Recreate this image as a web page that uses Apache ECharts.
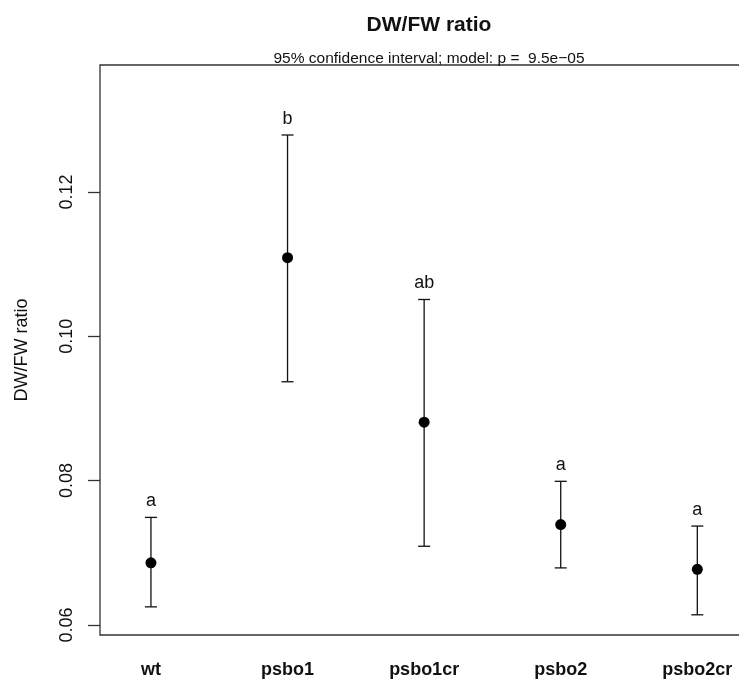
<!DOCTYPE html>
<html>
<head>
<meta charset="utf-8">
<script src="https://cdn.jsdelivr.net/npm/echarts@6/dist/echarts.min.js"></script>
<style>
  html, body { margin: 0; padding: 0; background: #fff; }
  #chart { width: 739px; height: 680px; }
</style>
</head>
<body>
<div id="chart"></div>
<script>
// groups and 95% CI
const groups = ['wt', 'psbo1', 'psbo1cr', 'psbo2', 'psbo2cr'];
const means = [0.0686, 0.1109, 0.0881, 0.0739, 0.0677];
const lower = [0.0625, 0.0937, 0.0709, 0.0679, 0.0614];
const upper = [0.0749, 0.1279, 0.1051, 0.0799, 0.0737];
const letters = ['a', 'b', 'ab', 'a', 'a'];
const yTicks = [0.06, 0.08, 0.10, 0.12];

const font = '"Liberation Sans", Arial, Helvetica, sans-serif';
const ink = '#111';

const chart = echarts.init(document.getElementById('chart'));

const ciData = groups.map((g, i) => [i + 1, lower[i], upper[i]]);
const meanData = groups.map((g, i) => [i + 1, means[i]]);

chart.setOption({
  animation: false,
  backgroundColor: '#fff',
  title: [
    {
      text: 'DW/FW ratio',
      left: 424, top: 10, textAlign: 'center',
      textStyle: { fontFamily: font, fontSize: 21, fontWeight: 'bold', color: ink }
    },
    {
      text: '95% confidence interval; model: p =  9.5e\u221205',
      left: 424, top: 46, textAlign: 'center',
      textStyle: { fontFamily: font, fontSize: 15.5, fontWeight: 'normal', color: ink }
    }
  ],
  grid: {
    left: 100, top: 65, right: -9, bottom: 45,
    show: true, borderColor: '#333', borderWidth: 1.3,
    outerBoundsMode: 'none'
  },
  xAxis: {
    type: 'value',
    min: 0.627, max: 5.371,
    axisLine: { show: false },
    axisTick: { show: false },
    splitLine: { show: false },
    axisLabel: {
      customValues: [1, 2, 3, 4, 5],
      formatter: v => groups[Math.round(v) - 1],
      margin: 26,
      fontFamily: font, fontSize: 18, fontWeight: 'bold', color: ink
    }
  },
  yAxis: {
    type: 'value',
    min: 0.0586, max: 0.1376,
    name: 'DW/FW ratio',
    nameLocation: 'middle',
    nameGap: 69,
    nameRotate: 90,
    nameTextStyle: { fontFamily: font, fontSize: 18, color: ink },
    axisLine: { show: false },
    splitLine: { show: false },
    axisTick: {
      show: true, customValues: yTicks, length: 12,
      lineStyle: { color: '#333', width: 1.3 }
    },
    axisLabel: {
      customValues: yTicks,
      rotate: 90,
      margin: 24,
      formatter: v => v.toFixed(2),
      fontFamily: font, fontSize: 18, color: ink
    }
  },
  series: [
    {
      type: 'custom',
      data: ciData,
      renderItem: function (params, api) {
        const x = api.value(0);
        const lo = api.coord([x, api.value(1)]);
        const hi = api.coord([x, api.value(2)]);
        const half = 6;
        const st = { stroke: ink, lineWidth: 1.3 };
        return {
          type: 'group',
          children: [
            { type: 'line', shape: { x1: lo[0], y1: lo[1], x2: hi[0], y2: hi[1] }, style: st },
            { type: 'line', shape: { x1: lo[0] - half, y1: lo[1], x2: lo[0] + half, y2: lo[1] }, style: st },
            { type: 'line', shape: { x1: hi[0] - half, y1: hi[1], x2: hi[0] + half, y2: hi[1] }, style: st },
            {
              type: 'text', x: hi[0], y: hi[1] - 7,
              style: {
                text: letters[params.dataIndex],
                align: 'center', verticalAlign: 'bottom',
                fontFamily: font, fontSize: 18, fill: ink
              }
            }
          ]
        };
      },
      z: 2
    },
    {
      type: 'scatter',
      data: meanData,
      symbol: 'circle',
      symbolSize: 11,
      itemStyle: { color: '#000', opacity: 1 },
      z: 3
    }
  ]
});
</script>
</body>
</html>
